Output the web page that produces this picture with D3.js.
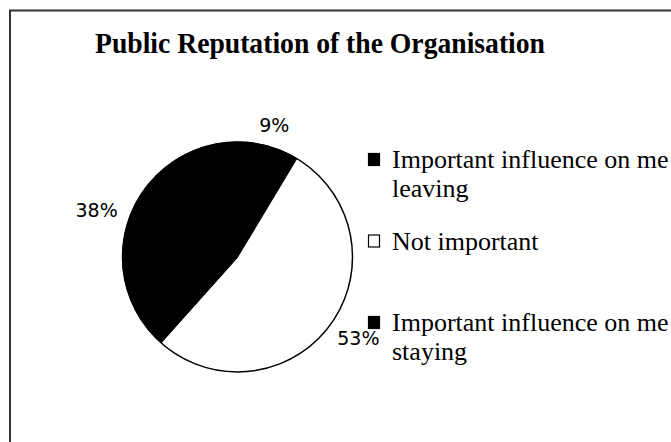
<!DOCTYPE html>
<html>
<head>
<meta charset="utf-8">
<script src="https://cdn.jsdelivr.net/npm/d3@7"></script>
<style>
  body { margin: 0; background: #fff; }
</style>
</head>
<body>
<div id="chart"></div>
<script>
// Chart data
var title = "Public Reputation of the Organisation";
var categories = ["Important influence on me leaving", "Not important", "Important influence on me staying"];
var legendLines = [["Important influence on me", "leaving"], ["Not important"], ["Important influence on me", "staying"]];
var percents = [9, 53, 38];
var fills = ["#000", "#fff", "#000"];

var width = 671;
var height = 442;

var svg = d3.select("#chart")
  .append("svg")
  .attr("width", width)
  .attr("height", height);

// Frame (only top and left edges are visible in the picture)
svg.append("path")
  .attr("d", "M10,442 V10.5 H671")
  .attr("fill", "none")
  .attr("stroke", "#333")
  .attr("stroke-width", 2);

// Title
svg.append("text")
  .attr("x", 95)
  .attr("y", 53)
  .attr("font-family", "Liberation Serif, Times New Roman, serif")
  .attr("font-weight", "bold")
  .attr("font-size", 30)
  .attr("textLength", 450)
  .attr("lengthAdjust", "spacingAndGlyphs")
  .text(title);

// Pie layout
var cx = 237.5, cy = 257, radius = 115;
var startAngle = -1.4 * Math.PI / 180;

var pie = d3.pie()
  .sort(null)
  .value(d => d)
  .startAngle(startAngle)
  .endAngle(startAngle + 2 * Math.PI);

var arcs = pie(percents);

var arc = d3.arc()
  .innerRadius(0)
  .outerRadius(radius);

var g = svg.append("g")
  .attr("transform", `translate(${cx},${cy})`);

g.selectAll("path")
  .data(arcs)
  .join("path")
  .attr("d", arc)
  .attr("fill", (d, i) => fills[i])
  .attr("stroke", (d, i) => fills[i] === "#000" ? "#000" : "none");

// outline of the whole pie
g.append("circle")
  .attr("r", radius)
  .attr("fill", "none")
  .attr("stroke", "#000")
  .attr("stroke-width", 1.5);

// divider lines between white and black slices
g.selectAll("g.div")
  .data(arcs.filter((d, i) => fills[i] === "#fff"))
  .join("g")
  .attr("class", "div")
  .each(function(d) {
    [d.startAngle, d.endAngle].forEach(a => {
      d3.select(this).append("line")
        .attr("x1", 0).attr("y1", 0)
        .attr("x2", radius * Math.sin(a))
        .attr("y2", -radius * Math.cos(a))
        .attr("stroke", "#000")
        .attr("stroke-width", 1.2);
    });
  });

// Percentage labels outside the pie
var labelR = 129;
g.selectAll("text.pct")
  .data(arcs)
  .join("text")
  .attr("class", "pct")
  .attr("font-family", "DejaVu Sans, Verdana, sans-serif")
  .attr("font-size", 19)
  .attr("text-anchor", "middle")
  .attr("dy", "0.36em")
  .text(d => d.data + "%")
  .each(function(d) {
    var a = (d.startAngle + d.endAngle) / 2;
    var bb = this.getBBox();
    var x = labelR * Math.sin(a) + Math.sin(a) * bb.width / 2;
    var y = -labelR * Math.cos(a) - Math.cos(a) * 7.5;
    d3.select(this).attr("x", x).attr("y", y);
  });

// Legend
var legend = svg.append("g")
  .attr("font-family", "Liberation Serif, Times New Roman, serif")
  .attr("font-size", 26);

var legendY = d3.scaleLinear().domain([0, 2]).range([168, 331]);

var item = legend.selectAll("g")
  .data(categories)
  .join("g")
  .attr("transform", (d, i) => `translate(368,${legendY(i)})`);

item.append("rect")
  .attr("x", 0.5)
  .attr("y", -14.5)
  .attr("width", 11)
  .attr("height", 12)
  .attr("fill", (d, i) => fills[i])
  .attr("stroke", "#000")
  .attr("stroke-width", 1.2);

item.append("text")
  .attr("x", 24)
  .selectAll("tspan")
  .data((d, i) => legendLines[i])
  .join("tspan")
  .attr("x", 24)
  .attr("dy", (d, j) => j === 0 ? 0 : 29)
  .text(d => d);
</script>
</body>
</html>
